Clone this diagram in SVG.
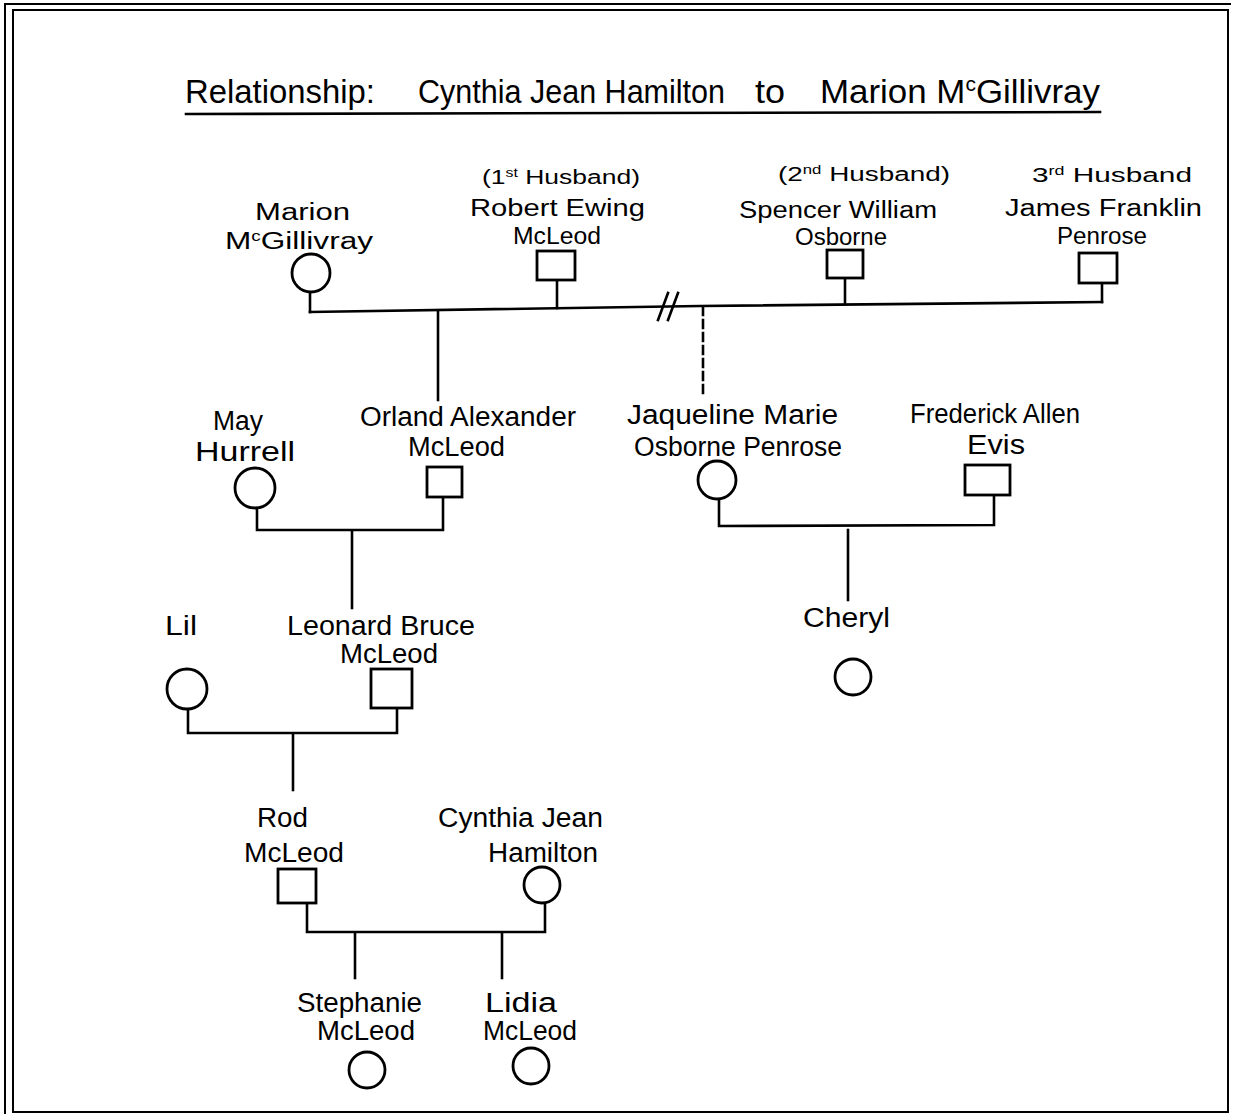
<svg xmlns="http://www.w3.org/2000/svg" width="1233" height="1114" viewBox="0 0 1233 1114">
<style>
.t{font-family:"Liberation Sans",Arial,sans-serif;font-size:27px;fill:#000}
.u{font-family:"Liberation Sans",Arial,sans-serif;font-size:23px;fill:#000}
.s{font-family:"Liberation Sans",Arial,sans-serif;font-size:20px;fill:#000}
.h{font-family:"Liberation Sans",Arial,sans-serif;font-size:33px;fill:#000}
.sup{font-size:60%}
.ln{stroke:#000;stroke-width:2.6;fill:none;stroke-linecap:square}
.sym{stroke:#000;stroke-width:2.8;fill:#fff}
.frame{stroke:#000;stroke-width:2;fill:none}
</style>
<rect width="1233" height="1114" fill="#fff"/>
<g id="frame">
<polyline class="frame" points="5,1114 5,4 1231,4"/>
<rect class="frame" x="13" y="10" width="1215" height="1102"/>
</g>
<g id="title">
<text class="h" x="185" y="103" textLength="190" lengthAdjust="spacingAndGlyphs">Relationship:</text>
<text class="h" x="418" y="103" textLength="307" lengthAdjust="spacingAndGlyphs">Cynthia Jean Hamilton</text>
<text class="h" x="755" y="103" textLength="30" lengthAdjust="spacingAndGlyphs">to</text>
<text class="h" x="820" y="103" textLength="280" lengthAdjust="spacingAndGlyphs">Marion M<tspan class="sup" dy="-12">c</tspan><tspan dy="12">Gillivray</tspan></text>
<line class="ln" x1="186" y1="114" x2="1100" y2="112" stroke-width="2"/>
</g>
<g id="connectors">
<polyline class="ln" points="310,292 310,312"/>
<polyline class="ln" points="557,280 557,308"/>
<polyline class="ln" points="845,278 845,304"/>
<polyline class="ln" points="1102,283 1102,302"/>
<polyline class="ln" points="310,312 700,306 1102,302"/>
<line class="ln" x1="668" y1="293" x2="658" y2="320"/>
<line class="ln" x1="678" y1="293" x2="668" y2="320"/>
<line class="ln" x1="438" y1="311" x2="438" y2="400"/>
<line class="ln" x1="703" y1="307" x2="703" y2="395" stroke-dasharray="8,5"/>
<polyline class="ln" points="257,508 257,530 443,530 443,497"/>
<line class="ln" x1="352" y1="531" x2="352" y2="608"/>
<polyline class="ln" points="719,498 719,526 994,525 994,497"/>
<line class="ln" x1="848" y1="530" x2="848" y2="600"/>
<polyline class="ln" points="188,710 188,733 397,733 397,708"/>
<line class="ln" x1="293" y1="734" x2="293" y2="790"/>
<polyline class="ln" points="307,903 307,932 545,932 545,903"/>
<line class="ln" x1="355" y1="933" x2="355" y2="978"/>
<line class="ln" x1="502" y1="933" x2="502" y2="978"/>
</g>
<g id="marion">
<text class="u" x="255" y="220" textLength="95" lengthAdjust="spacingAndGlyphs">Marion</text>
<text class="u" x="225" y="249" textLength="148" lengthAdjust="spacingAndGlyphs">M<tspan class="sup" dy="-8">c</tspan><tspan dy="8">Gillivray</tspan></text>
<circle class="sym" cx="311" cy="273" r="19"/>
</g>
<g id="robert">
<text class="s" x="482" y="184" textLength="158" lengthAdjust="spacingAndGlyphs">(1<tspan class="sup" dy="-7">st</tspan><tspan dy="7"> Husband)</tspan></text>
<text class="u" x="470" y="216" textLength="175" lengthAdjust="spacingAndGlyphs">Robert Ewing</text>
<text class="u" x="513" y="244" textLength="88" lengthAdjust="spacingAndGlyphs">McLeod</text>
<rect class="sym" x="537" y="251" width="38" height="29"/>
</g>
<g id="spencer">
<text class="s" x="778" y="181" textLength="172" lengthAdjust="spacingAndGlyphs">(2<tspan class="sup" dy="-7">nd</tspan><tspan dy="7"> Husband)</tspan></text>
<text class="u" x="739" y="218" textLength="198" lengthAdjust="spacingAndGlyphs">Spencer William</text>
<text class="u" x="795" y="245" textLength="92" lengthAdjust="spacingAndGlyphs">Osborne</text>
<rect class="sym" x="827" y="250" width="36" height="28"/>
</g>
<g id="james">
<text class="s" x="1032" y="182" textLength="160" lengthAdjust="spacingAndGlyphs">3<tspan class="sup" dy="-7">rd</tspan><tspan dy="7"> Husband</tspan></text>
<text class="u" x="1005" y="216" textLength="197" lengthAdjust="spacingAndGlyphs">James Franklin</text>
<text class="u" x="1057" y="244" textLength="90" lengthAdjust="spacingAndGlyphs">Penrose</text>
<rect class="sym" x="1079" y="253" width="38" height="30"/>
</g>
<g id="may">
<text class="t" x="213" y="430" textLength="50" lengthAdjust="spacingAndGlyphs">May</text>
<text class="t" x="195" y="461" textLength="100" lengthAdjust="spacingAndGlyphs">Hurrell</text>
<circle class="sym" cx="255" cy="488" r="20"/>
</g>
<g id="orland">
<text class="t" x="360" y="426" textLength="216" lengthAdjust="spacingAndGlyphs">Orland Alexander</text>
<text class="t" x="408" y="456" textLength="97" lengthAdjust="spacingAndGlyphs">McLeod</text>
<rect class="sym" x="427" y="467" width="35" height="30"/>
</g>
<g id="jaqueline">
<text class="t" x="627" y="424" textLength="211" lengthAdjust="spacingAndGlyphs">Jaqueline Marie</text>
<text class="t" x="634" y="456" textLength="208" lengthAdjust="spacingAndGlyphs">Osborne Penrose</text>
<circle class="sym" cx="717" cy="480" r="19"/>
</g>
<g id="frederick">
<text class="t" x="910" y="423" textLength="170" lengthAdjust="spacingAndGlyphs">Frederick Allen</text>
<text class="t" x="967" y="454" textLength="58" lengthAdjust="spacingAndGlyphs">Evis</text>
<rect class="sym" x="965" y="465" width="45" height="30"/>
</g>
<g id="cheryl">
<text class="t" x="803" y="627" textLength="87" lengthAdjust="spacingAndGlyphs">Cheryl</text>
<circle class="sym" cx="853" cy="677" r="18"/>
</g>
<g id="lil">
<text class="t" x="165" y="635" textLength="32" lengthAdjust="spacingAndGlyphs">Lil</text>
<circle class="sym" cx="187" cy="689" r="20"/>
</g>
<g id="leonard">
<text class="t" x="287" y="635" textLength="188" lengthAdjust="spacingAndGlyphs">Leonard Bruce</text>
<text class="t" x="340" y="663" textLength="98" lengthAdjust="spacingAndGlyphs">McLeod</text>
<rect class="sym" x="371" y="669" width="41" height="39"/>
</g>
<g id="rod">
<text class="t" x="257" y="827" textLength="51" lengthAdjust="spacingAndGlyphs">Rod</text>
<text class="t" x="244" y="862" textLength="100" lengthAdjust="spacingAndGlyphs">McLeod</text>
<rect class="sym" x="278" y="869" width="38" height="34"/>
</g>
<g id="cynthia">
<text class="t" x="438" y="827" textLength="165" lengthAdjust="spacingAndGlyphs">Cynthia Jean</text>
<text class="t" x="488" y="862" textLength="110" lengthAdjust="spacingAndGlyphs">Hamilton</text>
<circle class="sym" cx="542" cy="885" r="18"/>
</g>
<g id="stephanie">
<text class="t" x="297" y="1012" textLength="125" lengthAdjust="spacingAndGlyphs">Stephanie</text>
<text class="t" x="317" y="1040" textLength="98" lengthAdjust="spacingAndGlyphs">McLeod</text>
<circle class="sym" cx="367" cy="1070" r="18"/>
</g>
<g id="lidia">
<text class="t" x="485" y="1012" textLength="72" lengthAdjust="spacingAndGlyphs">Lidia</text>
<text class="t" x="483" y="1040" textLength="94" lengthAdjust="spacingAndGlyphs">McLeod</text>
<circle class="sym" cx="531" cy="1066" r="18"/>
</g>
</svg>
